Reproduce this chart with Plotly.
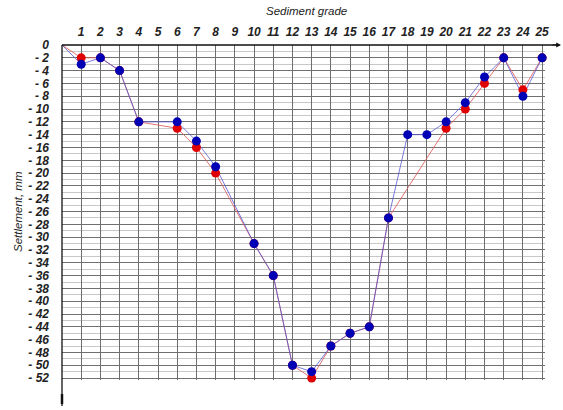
import plotly.graph_objects as go

# Sediment grade positions (0 = origin)
blue_x = [0, 1, 2, 3, 4, 6, 7, 8, 10, 11, 12, 13, 14, 15, 16, 17, 18, 19, 20, 21, 22, 23, 24, 25]
blue_y = [0, -3, -2, -4, -12, -12, -15, -19, -31, -36, -50, -51, -47, -45, -44, -27, -14, -14, -12, -9, -5, -2, -8, -2]

red_x = [0, 1, 2, 3, 4, 6, 7, 8, 10, 11, 12, 13, 14, 15, 16, 17, 20, 21, 22, 23, 24, 25]
red_y = [0, -2, -2, -4, -12, -13, -16, -20, -31, -36, -50, -52, -47, -45, -44, -27, -13, -10, -6, -2, -7, -2]

x_ticks = list(range(1, 26))
y_ticks = list(range(0, -53, -2))
y_labels = ["0" if v == 0 else "- " + str(-v) for v in y_ticks]

W, H = 563, 410
L, R, T, B = 62, 18, 45, 30

fig = go.Figure()
fig.add_trace(go.Scatter(x=red_x, y=red_y, mode="lines", cliponaxis=False,
                         line=dict(color="rgba(220,90,90,0.85)", width=1), hoverinfo="skip"))
fig.add_trace(go.Scatter(x=blue_x, y=blue_y, mode="lines", cliponaxis=False,
                         line=dict(color="rgba(80,80,210,0.75)", width=1), hoverinfo="skip"))
fig.add_trace(go.Scatter(x=red_x[1:], y=red_y[1:], mode="markers", cliponaxis=False,
                         marker=dict(color="#e00000", size=9, line=dict(width=0))))
fig.add_trace(go.Scatter(x=blue_x[1:], y=blue_y[1:], mode="markers", cliponaxis=False,
                         marker=dict(color="#0000b4", size=9, line=dict(width=0))))

tickfont = dict(family="Liberation Sans, Arial", size=12, color="#222", style="italic", weight="bold")

fig.update_layout(
    width=W, height=H,
    margin=dict(l=L, r=R, t=T, b=B),
    paper_bgcolor="white", plot_bgcolor="white",
    showlegend=False,
    xaxis=dict(
        side="top", range=[0, 25.15], tickvals=x_ticks, ticktext=[str(v) for v in x_ticks],
        showgrid=True, gridcolor="#6e6e6e", gridwidth=1, zeroline=False, automargin=False,
        showline=False, ticks="", ticklabelstandoff=6, tickfont=tickfont,
    ),
    yaxis=dict(
        range=[-52.3, 0], tickvals=y_ticks, ticktext=y_labels,
        showgrid=True, gridcolor="#707070", gridwidth=1, zeroline=False, automargin=False,
        minor=dict(tickvals=list(range(-1, -53, -2)), showgrid=True, gridcolor="#c8c8c8", gridwidth=1),
        showline=False, ticks="", ticklabelstandoff=12, tickfont=tickfont,
    ),
    font=dict(family="Liberation Sans, Arial"),
)

pw = W - L - R
ph = H - T - B
def px_x(p):
    return (p - L) / pw
def px_y(p):
    return (H - B - p) / ph

# axis lines
fig.add_shape(type="line", xref="paper", yref="paper", x0=0, x1=px_x(558), y0=1, y1=1,
              line=dict(color="#111", width=1.3))
fig.add_shape(type="line", xref="paper", yref="paper", x0=0, x1=0, y0=1, y1=px_y(406),
              line=dict(color="#111", width=1.3))
fig.add_shape(type="line", xref="paper", yref="paper", x0=0, x1=0, y0=px_y(394), y1=px_y(404),
              line=dict(color="#111", width=2.5))
fig.add_annotation(xref="paper", yref="paper", x=px_x(561), y=1, ax=-10, ay=0,
                   showarrow=True, arrowhead=2, arrowsize=0.8, arrowwidth=1.2, arrowcolor="#111", text="")

fig.add_annotation(xref="paper", yref="paper", x=px_x(306), y=px_y(11), showarrow=False,
                   text="Sediment grade", font=dict(size=11.5, color="#222", style="italic"),
                   xanchor="center", yanchor="middle")
fig.add_annotation(xref="paper", yref="paper", x=px_x(18), y=px_y(212), showarrow=False,
                   text="Settlement, mm", textangle=-90,
                   font=dict(size=11.5, color="#222", style="italic"),
                   xanchor="center", yanchor="middle")

fig.write_html("out.html", config={"displayModeBar": False},
               post_script="document.body.style.margin='0px';")
